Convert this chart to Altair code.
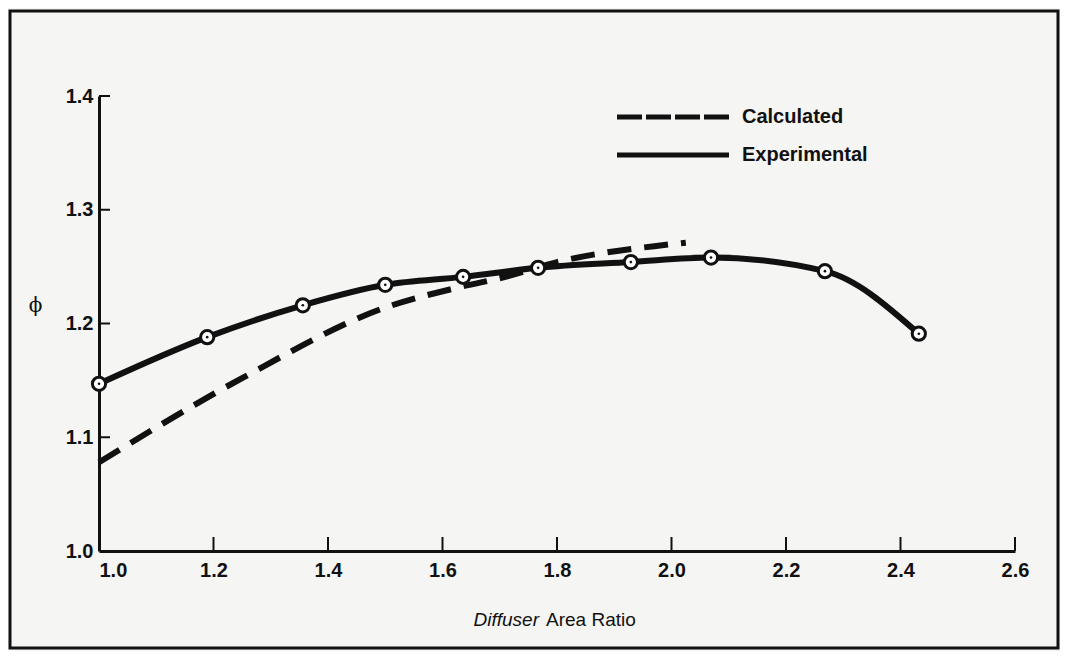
import altair as alt
import pandas as pd

# ---- data ----
exp_x = [1.0, 1.189, 1.356, 1.500, 1.636, 1.767, 1.929, 2.069, 2.268, 2.432]
exp_y = [1.147, 1.188, 1.216, 1.234, 1.241, 1.249, 1.254, 1.258, 1.246, 1.191]

calc_x = [1.0, 1.25, 1.5, 1.63, 1.71, 1.80, 1.97, 2.025]
calc_y = [1.078, 1.152, 1.214, 1.232, 1.241, 1.254, 1.268, 1.271]

x_ticks = [1.0, 1.2, 1.4, 1.6, 1.8, 2.0, 2.2, 2.4, 2.6]
y_ticks = [1.0, 1.1, 1.2, 1.3, 1.4]
legend_labels = ["Calculated", "Experimental"]
x_title_parts = ["Diffuser", "Area Ratio"]
y_title = "\u03d5"

exp_df = pd.DataFrame({"x": exp_x, "y": exp_y})
calc_df = pd.DataFrame({"x": calc_x, "y": calc_y})
xt_df = pd.DataFrame({"x": x_ticks[1:]})
yt_df = pd.DataFrame({"y": y_ticks[1:]})
one = pd.DataFrame({"a": [0]})

INK = "#111111"
FONT = "Liberation Sans"

xscale = alt.Scale(domain=[1.0, 2.6], nice=False, zero=False)
yscale = alt.Scale(domain=[1.0, 1.4], nice=False, zero=False)

xaxis = alt.Axis(
    values=x_ticks, format=".1f", title=None, grid=False,
    domainColor=INK, domainWidth=3, ticks=False, tickSize=0,
    labelFont=FONT, labelFontSize=20, labelFontWeight="bold", labelColor=INK,
    labelPadding=9, labelBaseline="top",
    labelAlign={"condition": {"test": "datum.value < 1.05", "value": "left"}, "value": "center"},
)
yaxis = alt.Axis(
    values=y_ticks, format=".1f", title=y_title, grid=False,
    domainColor=INK, domainWidth=3, ticks=False, tickSize=0,
    labelFont=FONT, labelFontSize=20, labelFontWeight="bold", labelColor=INK,
    labelPadding=6,
    titleAngle=0, titleX=-64, titleY=209, titleAlign="center", titleBaseline="middle",
    titleFont="DejaVu Serif", titleFontSize=20, titleFontWeight="normal",
    titleColor=INK,
)

X = alt.X("x:Q", scale=xscale, axis=xaxis)
Y = alt.Y("y:Q", scale=yscale, axis=yaxis)

exp_line = alt.Chart(exp_df).mark_line(
    color=INK, strokeWidth=6, interpolate="monotone"
).encode(x=X, y=Y)

calc_line = alt.Chart(calc_df).mark_line(
    color=INK, strokeWidth=6, strokeDash=[24, 13], interpolate="monotone"
).encode(x=X, y=Y)

exp_pts = alt.Chart(exp_df).mark_point(
    shape="circle", filled=True, fill="white", stroke=INK, strokeWidth=3,
    size=175, opacity=1
).encode(x=X, y=Y)

exp_dots = alt.Chart(exp_df).mark_point(
    shape="circle", filled=True, fill=INK, size=7, opacity=1
).encode(x=X, y=Y)

x_tick_marks = alt.Chart(xt_df).mark_rule(color=INK, strokeWidth=2).encode(
    x=X, y=alt.value(455), y2=alt.value(441)
)
y_tick_marks = alt.Chart(yt_df).mark_rule(color=INK, strokeWidth=2).encode(
    y=Y, x=alt.value(0), x2=alt.value(11)
)

# legend (drawn by hand, as in the reference)
leg_calc = alt.Chart(one).mark_rule(color=INK, strokeWidth=5, strokeDash=[25, 4]).encode(
    x=alt.value(518), x2=alt.value(630), y=alt.value(21)
)
leg_exp = alt.Chart(one).mark_rule(color=INK, strokeWidth=5).encode(
    x=alt.value(518), x2=alt.value(630), y=alt.value(59)
)
leg_txt1 = alt.Chart(one).mark_text(
    text=legend_labels[0], align="left", baseline="middle",
    font=FONT, fontSize=20, fontWeight="bold", color=INK
).encode(x=alt.value(643), y=alt.value(21))
leg_txt2 = alt.Chart(one).mark_text(
    text=legend_labels[1], align="left", baseline="middle",
    font=FONT, fontSize=20, fontWeight="bold", color=INK
).encode(x=alt.value(643), y=alt.value(59))

# x-axis title: "Diffuser" italic + "Area Ratio" upright
xt1 = alt.Chart(one).mark_text(
    text=x_title_parts[0], align="right", baseline="middle",
    font=FONT, fontSize=19, fontStyle="italic", color=INK
).encode(x=alt.value(440), y=alt.value(524))
xt2 = alt.Chart(one).mark_text(
    text=x_title_parts[1], align="left", baseline="middle",
    font=FONT, fontSize=19, color=INK
).encode(x=alt.value(447), y=alt.value(524))

frame = alt.Chart(one).mark_rect(
    fill=None, filled=False, stroke=INK, strokeWidth=3
).encode(x=alt.value(-89), x2=alt.value(959), y=alt.value(-85), y2=alt.value(552))

chart = alt.layer(
    frame, calc_line, exp_line, exp_pts, exp_dots, x_tick_marks, y_tick_marks,
    leg_calc, leg_exp, leg_txt1, leg_txt2, xt1, xt2,
).properties(
    width=916, height=455,
    autosize=alt.AutoSizeParams(type="none"),
    padding={"left": 91, "top": 88, "right": 45, "bottom": 100},
    background="#f5f5f3",
).configure_view(stroke=None)

chart.save("out.html", embed_options={"renderer": "svg", "actions": False})
